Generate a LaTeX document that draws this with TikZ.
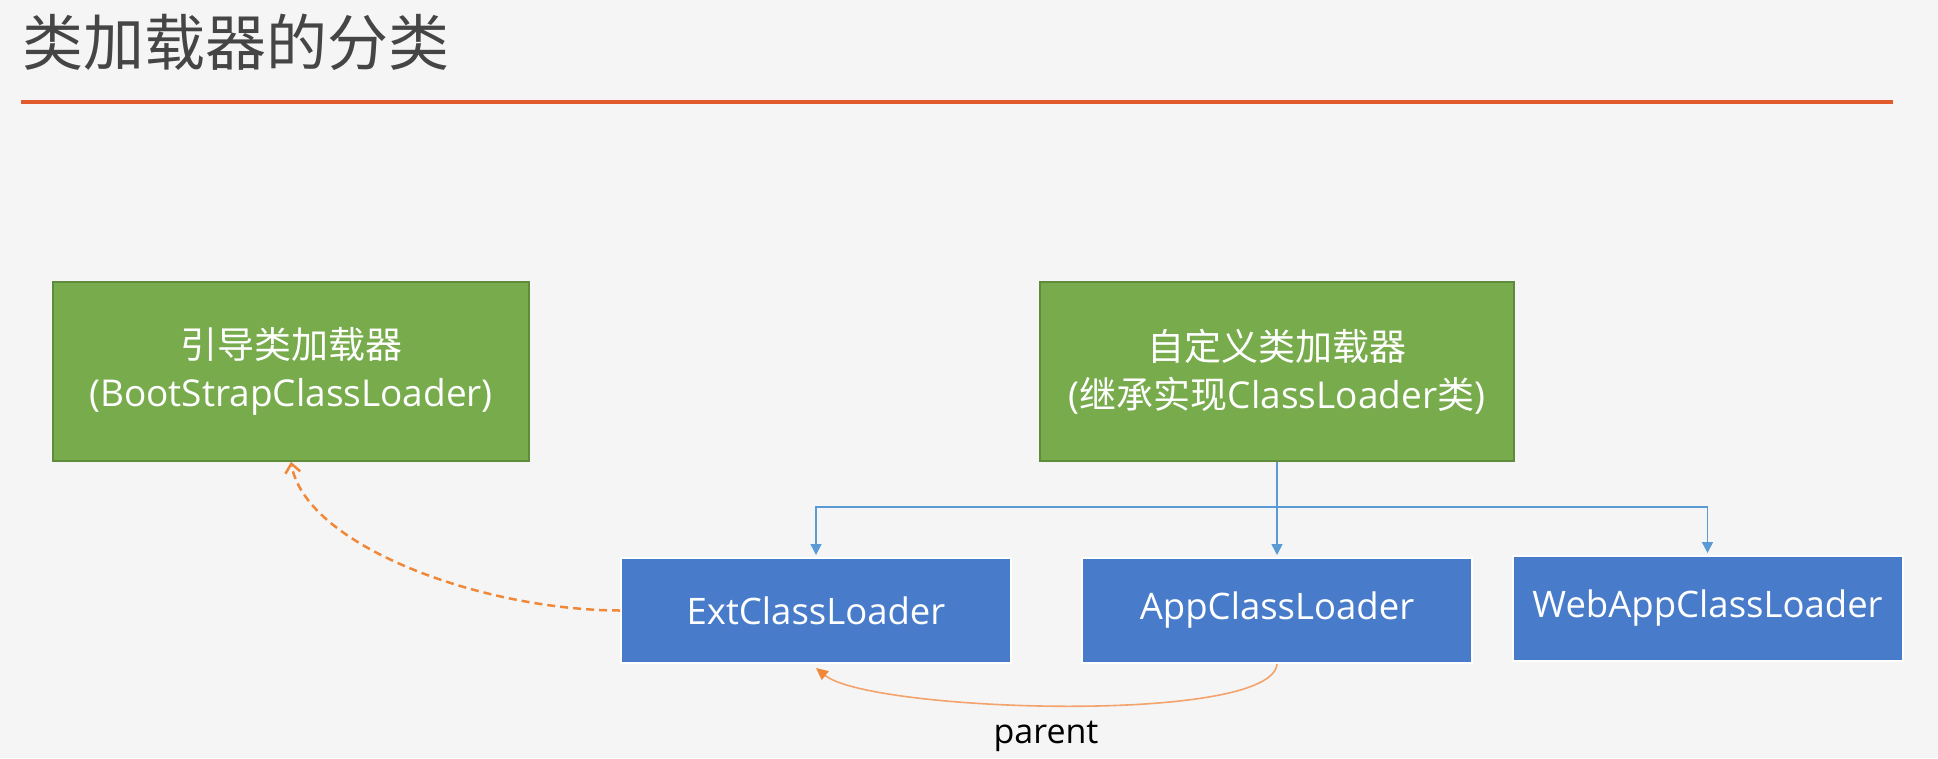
\documentclass[tikz,border=0pt]{standalone}
\usepackage{fontspec}
\setmainfont{Open Sans}
\newfontfamily\cjk{Noto Sans CJK SC}
\usetikzlibrary{arrows.meta}
\definecolor{bgc}{HTML}{F5F5F5}
\definecolor{titlec}{HTML}{454545}
\definecolor{rulec}{HTML}{E05A2B}
\definecolor{greenc}{HTML}{77AB4C}
\definecolor{greenb}{HTML}{5E8C3A}
\definecolor{bluec}{HTML}{487CCB}
\definecolor{linkc}{HTML}{5B9BD5}
\definecolor{orangec}{HTML}{F0883A}
\definecolor{orangel}{HTML}{F3A36B}
\tikzset{
  greenbox/.style={draw=greenb, line width=1.5pt, fill=greenc, text=white, align=center,
    minimum width=476pt, minimum height=179pt, inner sep=0pt,
    font=\fontsize{37}{48}\selectfont},
  bluebox/.style={draw=white, line width=2pt, fill=bluec, text=white, align=center,
    minimum width=390pt, minimum height=105pt, inner sep=0pt,
    font=\fontsize{36.5}{44}\selectfont},
  bluelink/.style={draw=linkc, line width=1.5pt},
  bluearrow/.style={bluelink, -{Triangle[length=11pt,width=11pt]}, shorten >=2pt},
  dasharrow/.style={draw=orangec, line width=2.5pt, dash pattern=on 8pt off 5pt,
    -{Straight Barb[length=9pt,width=15pt,line width=2.5pt]}},
  parentarrow/.style={draw=orangel, line width=1.6pt,
    -{Triangle[length=12pt,width=11pt,fill=orangec,color=orangec]}}
}
\begin{document}
\begin{tikzpicture}[x=1pt,y=-1pt]
\fill[bgc] (0,0) rectangle (1938,758);
\useasboundingbox (0,0) rectangle (1938,758);
\node[anchor=west, inner sep=0pt, text=titlec] (title) at (22,42)
  {\fontsize{61}{61}\selectfont\cjk 类加载器的分类};
\coordinate (ruleL) at (21,102);
\coordinate (ruleR) at (1893,102);
\draw[rulec, line width=4pt] (ruleL) -- (ruleR);

\node[greenbox] (boot) at (291,371.5) {{\cjk 引导类加载器}\\(BootStrapClassLoader)};
\node[greenbox, minimum width=474pt] (custom) at (1277,371.5)
  {{\cjk 自定义类加载器}\\({\cjk 继承实现}ClassLoader{\cjk 类})};

\node[bluebox] (ext) at (816,610.5) {ExtClassLoader};
\node[bluebox] (app) at (1277,610.5) {AppClassLoader};
\node[bluebox] (web) at (1707.5,608.5) {WebAppClassLoader};

\coordinate (j) at (1277,507);
\draw[bluelink] (custom.south) -- (j);
\draw[bluearrow] (j) -| (ext.north);
\draw[bluearrow] (j) -- (app.north);
\draw[bluearrow] (j) -| (web.north);

\draw[dasharrow] (ext.west) .. controls (480,610) and (305,545) .. (boot.south);
\draw[parentarrow] (app.south) .. controls (1272,725) and (870,712) .. ([yshift=-4pt]ext.south);
\node[inner sep=0pt, text=black, font=\fontsize{34}{34}\selectfont] (parent) at (1046,736) {parent};
\end{tikzpicture}
\end{document}
